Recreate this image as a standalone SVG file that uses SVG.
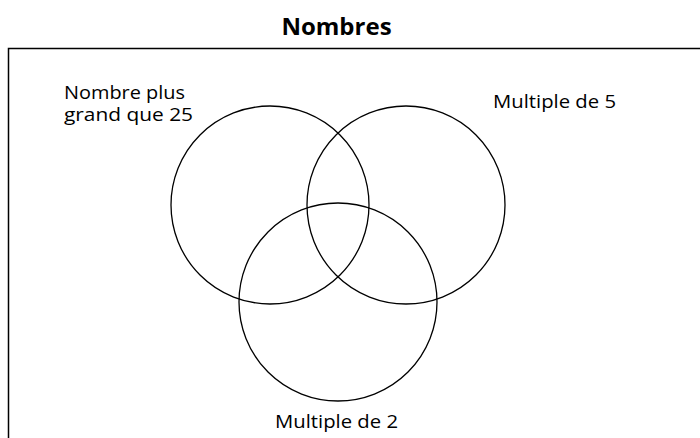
<svg xmlns="http://www.w3.org/2000/svg" width="700" height="438" viewBox="0 0 700 438">
<style>
.lbl{font-family:"Open Sans","Noto Sans",sans-serif;font-size:19px;fill:#000}
.title{font-family:"Open Sans","Noto Sans",sans-serif;font-size:24px;font-weight:bold;fill:#000}
.set{fill:none;stroke:#000;stroke-width:1.3}
</style>
<rect width="700" height="438" fill="#fff"/>
<text class="title" x="336.5" y="35" text-anchor="middle">Nombres</text>
<path d="M8.5 440 V48.5 H702" fill="none" stroke="#000" stroke-width="1.5"/>
<g id="set-plus25">
<circle class="set" cx="270" cy="205" r="99"/>
<text class="lbl" x="64" y="99" textLength="121" lengthAdjust="spacingAndGlyphs">Nombre plus</text>
<text class="lbl" x="64" y="121" textLength="129" lengthAdjust="spacingAndGlyphs">grand que 25</text>
</g>
<g id="set-mult5">
<circle class="set" cx="406" cy="205" r="99"/>
<text class="lbl" x="493" y="108" textLength="123" lengthAdjust="spacingAndGlyphs">Multiple de 5</text>
</g>
<g id="set-mult2">
<circle class="set" cx="338" cy="302" r="99"/>
<text class="lbl" x="275" y="428" textLength="123" lengthAdjust="spacingAndGlyphs">Multiple de 2</text>
</g>
<g id="connectors"></g>
</svg>
